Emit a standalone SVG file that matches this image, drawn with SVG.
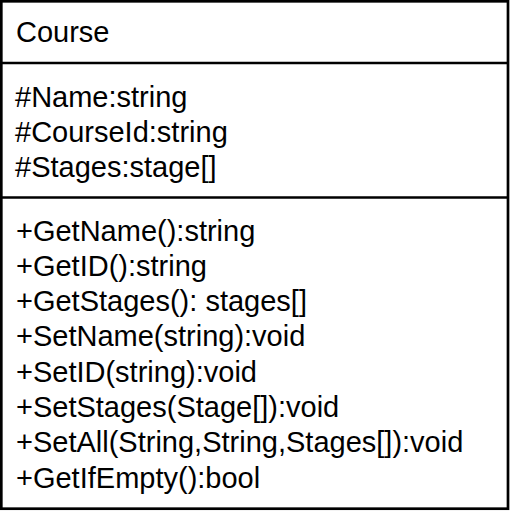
<svg xmlns="http://www.w3.org/2000/svg" width="512" height="514" viewBox="0 0 512 514">
<style>
.t{font-family:"Liberation Sans",Arial,sans-serif;font-size:29px;fill:#000}
.b{fill:none;stroke:#000;stroke-width:2.7}
</style>
<rect x="0" y="0" width="512" height="514" fill="#fff"/>
<g id="Course">
<rect class="b" x="1.3" y="1.3" width="506.7" height="507.4" fill="#fff"/>
<line class="b" x1="0" y1="63" x2="509" y2="63"/>
<line class="b" x1="0" y1="197.5" x2="509" y2="197.5"/>
<text class="t" x="16" y="42">Course</text>
<text class="t" x="15" y="107">#Name:string</text>
<text class="t" x="15" y="142">#CourseId:string</text>
<text class="t" x="15" y="177">#Stages:stage[]</text>
<text class="t" x="16" y="240.5">+GetName():string</text>
<text class="t" x="16" y="275.8">+GetID():string</text>
<text class="t" x="16" y="311.1">+GetStages(): stages[]</text>
<text class="t" x="16" y="346.4">+SetName(string):void</text>
<text class="t" x="16" y="381.7">+SetID(string):void</text>
<text class="t" x="16" y="417">+SetStages(Stage[]):void</text>
<text class="t" x="16" y="452.3">+SetAll(String,String,Stages[]):void</text>
<text class="t" x="16" y="487.6">+GetIfEmpty():bool</text>
</g>
</svg>
